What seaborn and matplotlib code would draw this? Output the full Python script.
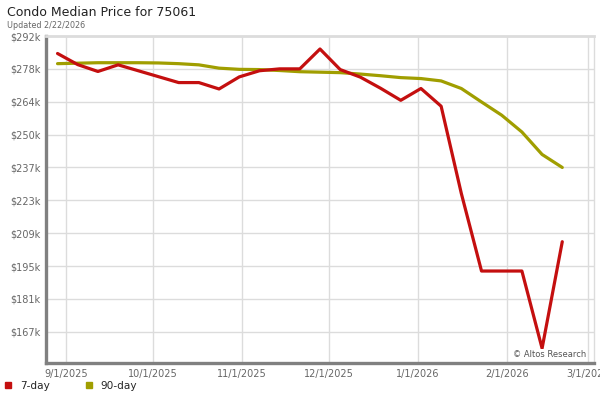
import matplotlib
matplotlib.use("Agg")
import matplotlib.pyplot as plt
from matplotlib.lines import Line2D
import pandas as pd
import seaborn as sns

# weekly data points
DATES = [
    "2025-08-29", "2025-09-05", "2025-09-12", "2025-09-19", "2025-09-26",
    "2025-10-03", "2025-10-10", "2025-10-17", "2025-10-24", "2025-10-31",
    "2025-11-07", "2025-11-14", "2025-11-21", "2025-11-28", "2025-12-05",
    "2025-12-12", "2025-12-19", "2025-12-26", "2026-01-02", "2026-01-09",
    "2026-01-16", "2026-01-23", "2026-01-30", "2026-02-06", "2026-02-13",
    "2026-02-20",
]
PRICE_7DAY = [
    284700, 280000, 277100, 279900, 277400, 274900, 272400, 272400, 269700,
    274800, 277400, 278200, 278200, 286600, 277900, 274700, 270000, 264900,
    269900, 262400, 225500, 192700, 192700, 192700, 160000, 205100,
]
PRICE_90DAY = [
    280400, 280600, 280800, 280800, 280800, 280700, 280400, 279900, 278500,
    278000, 277900, 277500, 277000, 276800, 276600, 276000, 275300, 274500,
    274100, 273100, 269900, 264200, 258600, 251500, 242000, 236500,
]
SERIES_NAMES = ["7-day", "90-day"]
COLORS = {"7-day": "#c40f0f", "90-day": "#a09e00"}

Y_TICKS = [167000, 180900, 194800, 208700, 222600, 236500, 250400, 264300, 278200, 292100]
Y_LABELS = ["$167k", "$181k", "$195k", "$209k", "$223k", "$237k", "$250k", "$264k", "$278k", "$292k"]
X_TICKS = ["2025-09-01", "2025-10-01", "2025-11-01", "2025-12-01", "2026-01-01", "2026-02-01", "2026-03-01"]
X_LABELS = ["9/1/2025", "10/1/2025", "11/1/2025", "12/1/2025", "1/1/2026", "2/1/2026", "3/1/2026"]

sns.set_theme(style="whitegrid")
plt.rcParams["font.family"] = ["DejaVu Sans"]

df = pd.DataFrame({
    "date": pd.to_datetime(DATES * 2),
    "price": PRICE_7DAY + PRICE_90DAY,
    "series": [SERIES_NAMES[0]] * len(DATES) + [SERIES_NAMES[1]] * len(DATES),
})

fig = plt.figure(figsize=(6, 4), dpi=100)
ax = fig.add_axes([46 / 600, 37 / 400, 548 / 600, 327 / 400])

# draw the 90-day first so the 7-day sits on top
for name in ["90-day", "7-day"]:
    sns.lineplot(data=df[df["series"] == name], x="date", y="price", ax=ax,
                 color=COLORS[name], linewidth=2.3, legend=False)

ax.set_xlim(pd.Timestamp("2025-08-25"), pd.Timestamp("2026-03-03"))
ax.set_ylim(153800, 292100)
ax.set_yticks(Y_TICKS)
ax.set_yticklabels(Y_LABELS)
ax.set_xticks(pd.to_datetime(X_TICKS))
ax.set_xticklabels(X_LABELS)
ax.set_xlabel("")
ax.set_ylabel("")
ax.tick_params(axis="both", length=0, labelsize=7, labelcolor="#666666", pad=4)

ax.set_facecolor("white")
ax.grid(True, color="#dcdcdc", linewidth=1.0)
for side in ["left", "bottom"]:
    ax.spines[side].set_color("#808080")
    ax.spines[side].set_linewidth(2.4)
ax.spines["top"].set_color("#dcdcdc")
ax.spines["top"].set_linewidth(2.0)
ax.spines["right"].set_color("#dcdcdc")
ax.spines["right"].set_linewidth(1.0)

ax.text(0.985, 0.012, "\u00a9 Altos Research", transform=ax.transAxes,
        ha="right", va="bottom", fontsize=6, color="#555555",
        bbox=dict(facecolor="white", edgecolor="none", pad=1))

fig.text(7 / 600, 1 - 13 / 400, "Condo Median Price for 75061", fontsize=9,
         color="#222222", va="center", ha="left")
fig.text(7 / 600, 1 - 25 / 400, "Updated 2/22/2026", fontsize=5.8,
         color="#666666", va="center", ha="left")

handles = [Line2D([], [], marker="s", linestyle="none", markersize=5,
                  color=COLORS[n]) for n in SERIES_NAMES]
fig.legend(handles, SERIES_NAMES, loc="center left",
           bbox_to_anchor=(0, 1 - 386 / 400), ncol=2, frameon=False,
           fontsize=7.6, handletextpad=0.6, columnspacing=3.2,
           borderaxespad=0, handlelength=1.0, borderpad=0.3)

fig.savefig("out.png", dpi=100)
